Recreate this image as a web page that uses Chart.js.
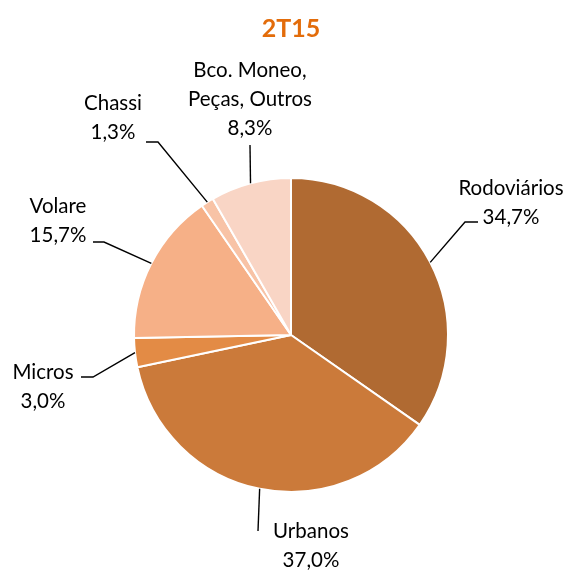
<!DOCTYPE html>
<html>
<head>
<meta charset="utf-8">
<script src="https://cdn.jsdelivr.net/npm/chart.js@4/dist/chart.umd.min.js"></script>
<style>
  html, body { margin: 0; padding: 0; background: #fff; }
  #wrap { width: 570px; height: 570px; }
</style>
</head>
<body>
<div id="wrap"><canvas id="graph"></canvas></div>
<script>
// Dati del grafico
const categorie = ['Rodoviários', 'Urbanos', 'Micros', 'Volare', 'Chassi', 'Bco. Moneo, Peças, Outros'];
const valori = [34.7, 37.0, 3.0, 15.7, 1.3, 8.3];
const colori = ['#b06a32', '#cb7a3a', '#e38b45', '#f6b087', '#f8c3a6', '#f9d5c5'];
const etichette = [
	['Rodoviários', '34,7%'],
	['Urbanos', '37,0%'],
	['Micros', '3,0%'],
	['Volare', '15,7%'],
	['Chassi', '1,3%'],
	['Bco. Moneo,', 'Peças, Outros', '8,3%']
];

// posizione del testo e della linea guida per ogni fetta
const layoutEtichette = [
	{ x: 511, y: 188, line: [[465, 222], [478, 222]] },
	{ x: 311, y: 531, line: [[258, 531]] },
	{ x: 43, y: 372, line: [[93, 377], [81, 377]] },
	{ x: 58, y: 206, line: [[104, 242], [93, 242]] },
	{ x: 113, y: 103, line: [[158, 142], [146, 142]] },
	{ x: 250, y: 70, line: [[250, 145]] }
];

const etichettePlugin = {
	id: 'etichette',
	afterDatasetsDraw(chart) {
		const ctx = chart.ctx;
		const meta = chart.getDatasetMeta(0);
		ctx.save();
		meta.data.forEach(function(arc, i) {
			const p = arc.getProps(['x', 'y', 'startAngle', 'endAngle', 'outerRadius'], true);
			const mid = (p.startAngle + p.endAngle) / 2;
			const sx = p.x + Math.cos(mid) * p.outerRadius;
			const sy = p.y + Math.sin(mid) * p.outerRadius;
			const l = layoutEtichette[i];
			ctx.strokeStyle = '#000';
			ctx.lineWidth = 1.4;
			ctx.beginPath();
			ctx.moveTo(sx, sy);
			l.line.forEach(function(pt) { ctx.lineTo(pt[0], pt[1]); });
			ctx.stroke();
			ctx.fillStyle = '#000';
			ctx.font = '20.5px Lato';
			ctx.textAlign = 'center';
			ctx.textBaseline = 'middle';
			etichette[i].forEach(function(t, k) {
				ctx.fillText(t, l.x, l.y + k * 29);
			});
		});
		ctx.restore();
	}
};

let torta = {
	type: 'pie',
	data: {
		labels: categorie,
		datasets: [{
			data: valori,
			backgroundColor: colori,
			borderColor: '#ffffff',
			borderWidth: 2
		}]
	},
	options: {
		responsive: true,
		maintainAspectRatio: false,
		animation: false,
		layout: {
			padding: { top: 0, left: 133, right: 121, bottom: 77 }
		},
		plugins: {
			legend: { display: false },
			tooltip: { enabled: false },
			title: {
				display: true,
				text: '2T15',
				color: '#e36c0a',
				font: { family: 'Lato', size: 25, weight: 'bold' },
				padding: { top: 14, bottom: 133 }
			}
		}
	},
	plugins: [etichettePlugin]
};

var ctxg = document.getElementById('graph').getContext('2d');
window.myPie = new Chart(ctxg, torta);
</script>
</body>
</html>
